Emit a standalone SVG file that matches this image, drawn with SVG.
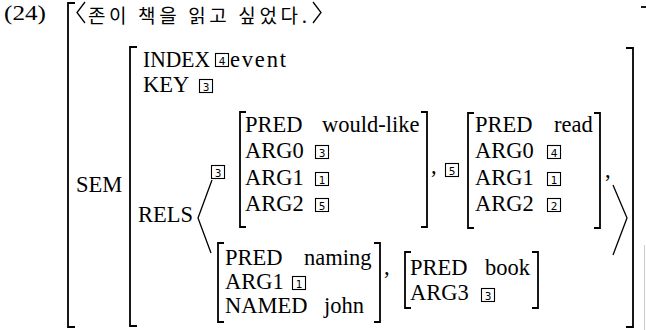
<svg xmlns="http://www.w3.org/2000/svg" width="646" height="330" viewBox="0 0 646 330">
<style>
.t{font-family:"Liberation Serif",serif;font-size:22.5px;fill:#000}
.k{font-family:"Noto Sans CJK KR",sans-serif;font-size:19px;fill:#000}
.n{font-family:"DejaVu Sans",sans-serif;font-size:10.5px;fill:#000;text-anchor:middle}
.bx{fill:none;stroke:#000;stroke-width:1.1}
.br{fill:none;stroke:#000;stroke-width:1.8}
.ang{fill:none;stroke:#000;stroke-width:1.3}
</style>
<rect width="646" height="330" fill="#fff"/>
<g id="label">
<text class="t" x="4" y="20" style="font-size:22px" textLength="42" lengthAdjust="spacingAndGlyphs">(24)</text>
</g>
<g id="outer">
<path class="br" d="M75,3 H68 V327 H75"/>
<path class="ang" d="M85,2 L77,12.5 L85,23"/>
<text class="k" x="88" y="22.5" textLength="219" lengthAdjust="spacing">존이 책을 읽고 싶었다.</text>
<path class="ang" d="M313,2 L321,12.5 L313,23"/>
<path class="br" d="M641,7 H646"/>
<path d="M644.5,245 V330" stroke="#ccc" stroke-width="1" fill="none"/>
</g>
<g id="sem">
<text class="t" x="76" y="192">SEM</text>
<path class="br" d="M137,47 H130 V326 H137"/>
<path class="br" d="M626,48 H633 V327 H626"/>
<text class="t" x="143" y="67" textLength="67" lengthAdjust="spacingAndGlyphs">INDEX</text>
<rect class="bx" x="215.5" y="53.5" width="13" height="13"/><text class="n" x="222" y="64.5">4</text>
<text class="t" x="230" y="67" textLength="56" lengthAdjust="spacing">event</text>
<text class="t" x="143" y="92">KEY</text>
<rect class="bx" x="199.5" y="79.5" width="13" height="13"/><text class="n" x="206" y="90.5">3</text>
<text class="t" x="138" y="222">RELS</text>
</g>
<g id="connectors">
<path class="ang" d="M212,180 L198,218 L211,253"/>
<path class="ang" d="M613,185 L627,218 L613,255"/>
</g>
<g id="rel-would-like">
<rect class="bx" x="211.5" y="165.5" width="13" height="13"/><text class="n" x="218" y="176.5">3</text>
<path class="br" d="M246,112 H240 V227 H246"/>
<path class="br" d="M421,112 H427 V227 H421"/>
<text class="t" x="245" y="132">PRED</text><text class="t" x="322" y="132">would-like</text>
<text class="t" x="245" y="158">ARG0</text>
<rect class="bx" x="315.5" y="145.5" width="13" height="13"/><text class="n" x="322" y="156.5">3</text>
<text class="t" x="245" y="185">ARG1</text>
<rect class="bx" x="315.5" y="172.5" width="13" height="13"/><text class="n" x="322" y="183.5">1</text>
<text class="t" x="245" y="211">ARG2</text>
<rect class="bx" x="315.5" y="198.5" width="13" height="13"/><text class="n" x="322" y="209.5">5</text>
<text class="t" x="431" y="173">,</text>
</g>
<g id="rel-read">
<rect class="bx" x="445.5" y="163.5" width="13" height="13"/><text class="n" x="452" y="174.5">5</text>
<path class="br" d="M474,113 H468 V228 H474"/>
<path class="br" d="M594,113 H600 V228 H594"/>
<text class="t" x="475" y="132">PRED</text><text class="t" x="554" y="132">read</text>
<text class="t" x="475" y="158">ARG0</text>
<rect class="bx" x="547.5" y="145.5" width="13" height="13"/><text class="n" x="554" y="156.5">4</text>
<text class="t" x="475" y="185">ARG1</text>
<rect class="bx" x="547.5" y="172.5" width="13" height="13"/><text class="n" x="554" y="183.5">1</text>
<text class="t" x="475" y="211">ARG2</text>
<rect class="bx" x="547.5" y="198.5" width="13" height="13"/><text class="n" x="554" y="209.5">2</text>
<text class="t" x="605" y="177">,</text>
</g>
<g id="rel-naming">
<path class="br" d="M224,243 H218 V322 H224"/>
<path class="br" d="M374,243 H380 V322 H374"/>
<text class="t" x="225" y="265">PRED</text><text class="t" x="304" y="265">naming</text>
<text class="t" x="225" y="289">ARG1</text>
<rect class="bx" x="292.5" y="276.5" width="13" height="13"/><text class="n" x="299" y="287.5">1</text>
<text class="t" x="225" y="313">NAMED</text><text class="t" x="324" y="313">john</text>
<text class="t" x="384" y="274">,</text>
</g>
<g id="rel-book">
<path class="br" d="M411,252 H405 V308 H411"/>
<path class="br" d="M532,252 H538 V308 H532"/>
<text class="t" x="410" y="275">PRED</text><text class="t" x="485" y="275">book</text>
<text class="t" x="410" y="300">ARG3</text>
<rect class="bx" x="481.5" y="288.5" width="13" height="13"/><text class="n" x="488" y="299.5">3</text>
</g>
</svg>
